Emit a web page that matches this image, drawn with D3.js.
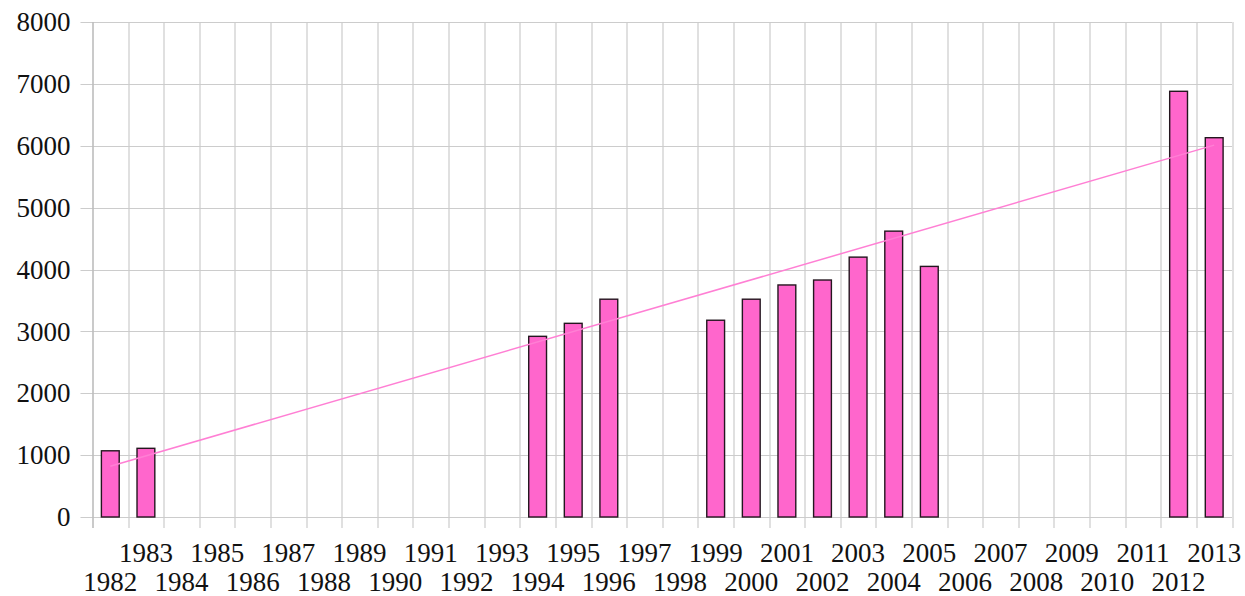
<!DOCTYPE html>
<html>
<head>
<meta charset="utf-8">
<script src="https://cdn.jsdelivr.net/npm/d3@7"></script>
<style>
  body { margin: 0; background: #fff; }
  text { font-family: "Liberation Serif", "Times New Roman", serif; fill: #111; }
</style>
</head>
<body>
<div id="chart"></div>
<script>
// categories (every year 1982..2013, most empty)
var years = ["1982","1983","1984","1985","1986","1987","1988","1989","1990","1991",
  "1992","1993","1994","1995","1996","1997","1998","1999","2000","2001","2002",
  "2003","2004","2005","2006","2007","2008","2009","2010","2011","2012","2013"];

// years that have a bar, and their values
var barYears = ["1982","1983","1994","1995","1996","1999","2000","2001","2002","2003","2004","2005","2012","2013"];
var barValues = [1070, 1110, 2920, 3130, 3520, 3180, 3520, 3750, 3830, 4200, 4620, 4050, 6880, 6130];

// linear trend line
var trendYears = ["1982", "2013"];
var trendValues = [820, 6010];

var yTicks = [0, 1000, 2000, 3000, 4000, 5000, 6000, 7000, 8000];

var svg = d3.select("#chart")
    .append("svg")
    .attr("width", 1245)
    .attr("height", 596),
    margin = { top: 22, right: 13, bottom: 79, left: 92.5 };

var width = 1245 - margin.left - margin.right,
    height = 596 - margin.top - margin.bottom,
    g = svg.append("g").attr("transform", "translate(" + margin.left + "," + margin.top + ")");

var x = d3.scaleBand()
    .domain(years)
    .range([0, width])
    .paddingInner(0.5)
    .paddingOuter(0.25);

var y = d3.scaleLinear()
    .domain([0, 8000])
    .range([height, 0]);

var half = (x.step() - x.bandwidth()) / 2;
var bounds = years.map(function(d) { return x(d) - half; });
bounds.push(x(years[years.length - 1]) + x.bandwidth() + half);

// horizontal grid + ticks
g.append("g")
    .selectAll("line")
    .data(yTicks)
    .enter().append("line")
    .attr("x1", -12)
    .attr("x2", width)
    .attr("y1", function(d) { return Math.round(y(d)) + 0.5; })
    .attr("y2", function(d) { return Math.round(y(d)) + 0.5; })
    .attr("stroke", "#cccccc")
    .attr("stroke-width", 1.2);

// vertical grid (category boundaries) + ticks
g.append("g")
    .selectAll("line")
    .data(bounds)
    .enter().append("line")
    .attr("x1", function(d) { return Math.round(d) + 0.5; })
    .attr("x2", function(d) { return Math.round(d) + 0.5; })
    .attr("y1", 0)
    .attr("y2", height + 11)
    .attr("stroke", function(d, i) { return i === 0 ? "#bdbdbd" : "#cccccc"; })
    .attr("stroke-width", function(d, i) { return i === 0 ? 1.6 : 1.2; });

// y labels
g.append("g")
    .selectAll("text")
    .data(yTicks)
    .enter().append("text")
    .attr("x", -22)
    .attr("y", function(d) { return y(d); })
    .attr("dy", "0.34em")
    .attr("text-anchor", "end")
    .style("font-size", "27px")
    .text(function(d) { return d; });

// x labels, staggered in two rows
g.append("g")
    .selectAll("text")
    .data(years)
    .enter().append("text")
    .attr("x", function(d) { return x(d) + x.bandwidth() / 2; })
    .attr("y", function(d, i) { return i % 2 === 1 ? height + 45 : height + 74; })
    .attr("text-anchor", "middle")
    .style("font-size", "27px")
    .text(function(d) { return d; });

// bars
g.append("g")
    .selectAll("rect")
    .data(barYears)
    .enter().append("rect")
    .attr("x", function(d) { return x(d); })
    .attr("y", function(d, i) { return y(barValues[i]); })
    .attr("width", x.bandwidth())
    .attr("height", function(d, i) { return y(0) - y(barValues[i]); })
    .attr("fill", "#ff66cc")
    .attr("stroke", "#24161f")
    .attr("stroke-width", 1.4);

// trend line
var line = d3.line()
    .x(function(d) { return x(d) + x.bandwidth() / 2; })
    .y(function(d, i) { return y(trendValues[i]); });

g.append("path")
    .datum(trendYears)
    .attr("d", line)
    .attr("fill", "none")
    .attr("stroke", "#ff7fd4")
    .attr("stroke-width", 1.5);
</script>
</body>
</html>
